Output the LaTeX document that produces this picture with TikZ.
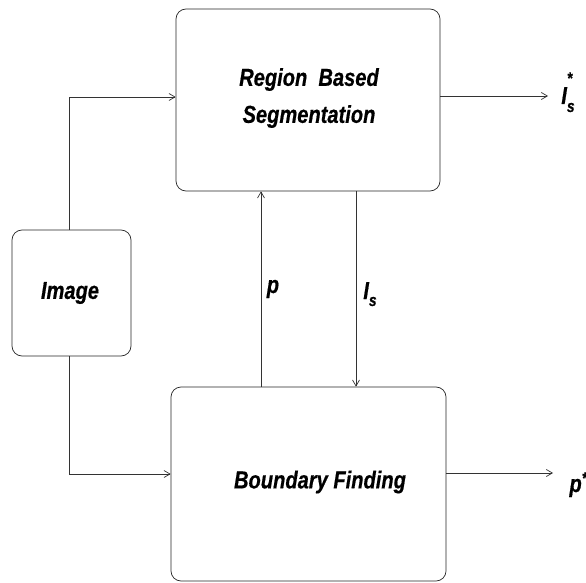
\documentclass[tikz,border=0pt]{standalone}
\usepackage{fontspec}
\setmainfont{Liberation Sans}[FakeStretch=0.82,FakeBold=0.5]
\usetikzlibrary{arrows.meta}
\tikzset{
  block/.style={draw=black!85, line width=0.7bp, rounded corners=10bp, inner sep=0pt},
  lbl/.style={font=\fontsize{24.5bp}{28bp}\selectfont\bfseries\itshape, align=center},
  link/.style={draw=black!80, line width=0.7bp},
  arr/.style={link, -{Straight Barb[length=6bp,width=7bp,line width=0.7bp]}},
}
\newcommand{\subtxt}[1]{{\fontsize{17bp}{19bp}\selectfont #1}}
\begin{document}
\begin{tikzpicture}[x=1bp,y=-1bp]
\useasboundingbox (0,0) rectangle (586,583);
% processing blocks
\node[block, minimum width=264bp, minimum height=182bp] (seg) at (308,100) {};
\node[lbl] at (309,98) {Region\ \ Based\\[9bp]Segmentation};
\node[block, minimum width=119bp, minimum height=126bp] (img) at (71.5,293) {};
\node[lbl] at (70,293) {Image};
\node[block, minimum width=275bp, minimum height=194bp] (bf) at (308.5,484) {};
\node[lbl] at (320,482) {Boundary Finding};
% routing points
\coordinate (ctop) at (69,97);
\coordinate (cbot) at (69,474);
\coordinate (xp) at (261,0);
\coordinate (xi) at (356,0);
\coordinate (o1) at (548,96);
\coordinate (o2) at (553,473);
% image feeds both blocks
\draw[arr] (img.north -| ctop) -- (ctop) -- (seg.west |- ctop);
\draw[arr] (img.south -| cbot) -- (cbot) -- (bf.west |- cbot);
% exchange between the blocks
\draw[arr] (bf.north -| xp) -- (seg.south -| xp);
\draw[arr] (seg.south -| xi) -- (bf.north -| xi);
% outputs
\draw[arr] (seg.east |- o1) -- (o1);
\draw[arr] (bf.east |- o2) -- (o2);
% signal labels
\node[lbl, anchor=base] (pl) at (273,293) {p};
\node[lbl, anchor=base] (isl) at (370,299) {I\raisebox{-7bp}{\subtxt{s}}};
\node[lbl, anchor=base] (isstar) at (568,104) {I\rlap{\raisebox{20bp}{\subtxt{*}}}\raisebox{-8bp}{\subtxt{s}}};
\node[lbl, anchor=base west] (pstar) at (566,492) {p\raisebox{8bp}{\subtxt{*}}};
\end{tikzpicture}
\end{document}
